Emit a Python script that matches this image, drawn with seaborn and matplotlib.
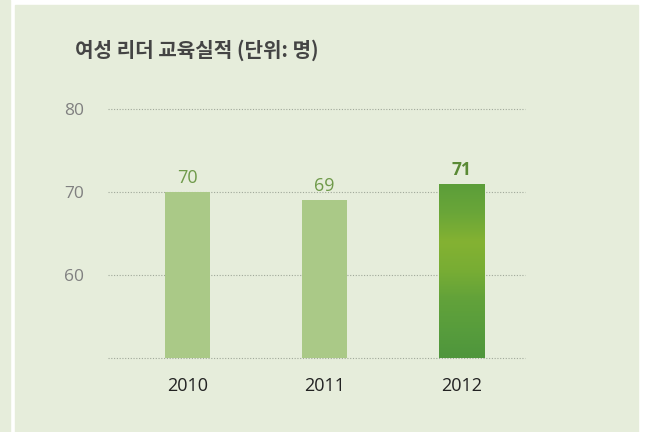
import matplotlib
matplotlib.use("Agg")
import matplotlib.pyplot as plt
from matplotlib.patches import Rectangle
from matplotlib.colors import LinearSegmentedColormap
import numpy as np
import pandas as pd
import seaborn as sns

years = ["2010", "2011", "2012"]
trainees = [70, 69, 71]
y_ticks = [60, 70, 80]
title = "여성 리더 교육실적 (단위: 명)"

panel_bg = "#e6eddb"
bar_light = "#aac987"

sns.set_style("white")
plt.rcParams['font.family'] = ['Noto Sans CJK KR', 'DejaVu Sans']

df = pd.DataFrame({"year": years, "count": trainees})

fig = plt.figure(figsize=(6.58, 4.32), dpi=100)
fig.patch.set_facecolor("white")
W, H = 658, 432
# side strip and main panel
fig.patches.append(Rectangle((0, 0), 10 / W, 1, transform=fig.transFigure,
                             color=panel_bg, zorder=-5))
fig.patches.append(Rectangle((15 / W, 0), 623 / W, 427 / H, transform=fig.transFigure,
                             color=panel_bg, zorder=-5))

ax = fig.add_axes([108 / W, (H - 358) / H, (525 - 108) / W, (358 - 109) / H])
ax.set_facecolor("none")

sns.barplot(data=df, x="year", y="count", color=bar_light, width=0.33,
            saturation=1, edgecolor="none", linewidth=0, ax=ax, zorder=3)
ymin, ymax = 50, 80

# textured look for the latest year
last = ax.patches[-1]
last.set_facecolor("none")
bx, bw = last.get_x(), last.get_width()
top = last.get_y() + last.get_height()
grad = np.linspace(0, 1, 80)[:, None] * np.ones((1, 12))
cmap = LinearSegmentedColormap.from_list(
    "g", ["#4f963c", "#589d3c", "#62a23a", "#78ad34", "#84b232", "#6aa638", "#5c9e3a"])
img = ax.imshow(grad, cmap=cmap, aspect="auto", extent=(bx, bx + bw, ymin, top),
                origin="lower", zorder=3, interpolation="bilinear")
img.set_clip_path(last)

ax.set_ylim(ymin, ymax)
ax.set_xlim(-0.58, 2.46)

for i, v in enumerate(trainees):
    bold = i == len(trainees) - 1
    ax.text(i, v + 0.6, str(v), ha="center", va="bottom",
            fontsize=13 if not bold else 12.5,
            fontweight="bold" if bold else "normal",
            color="#5a8a35" if bold else "#6f9a4a", zorder=4,
            family=['Open Sans', 'DejaVu Sans'])

for y in [ymin] + y_ticks:
    ax.axhline(y, color="#a0a89a", lw=0.8, ls=(0, (1, 1.5)), zorder=1, clip_on=False)

ax.set_yticks(y_ticks)
ax.set_xlabel("")
ax.set_ylabel("")
ax.tick_params(axis="y", length=0, pad=17, labelsize=12.5, labelcolor="#808080")
ax.tick_params(axis="x", length=0, pad=14, labelsize=13, labelcolor="#222222")
for lab in ax.get_xticklabels() + ax.get_yticklabels():
    lab.set_family(['Open Sans', 'DejaVu Sans'])
sns.despine(ax=ax, left=True, bottom=True)

fig.text(75 / W, 1 - 50 / H, title, fontsize=14.5, fontweight="bold",
         color="#444444", va="center", ha="left")

fig.savefig("out.png", dpi=100, facecolor=fig.get_facecolor())
